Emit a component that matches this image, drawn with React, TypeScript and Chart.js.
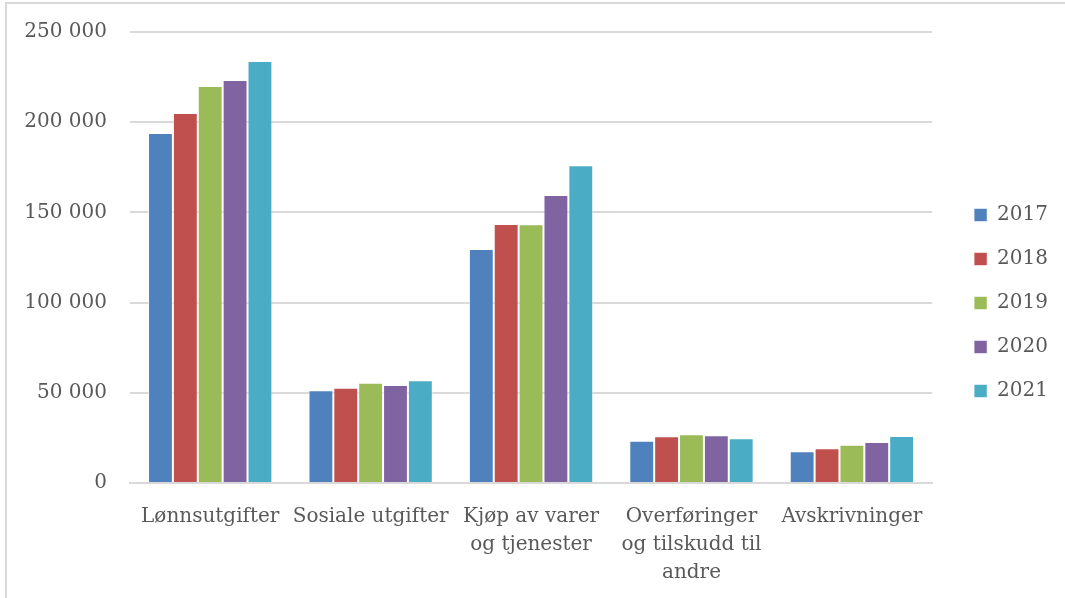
import React, { useEffect, useRef } from "react";
import { Chart, registerables } from "chart.js";

Chart.register(...registerables);

const categories: (string | string[])[] = [
  "Lønnsutgifter",
  "Sosiale utgifter",
  ["Kjøp av varer", "og tjenester"],
  ["Overføringer", "og tilskudd til", "andre"],
  "Avskrivninger",
];

const years = ["2017", "2018", "2019", "2020", "2021"];
const colors = ["#4F81BD", "#C0504D", "#9BBB59", "#8064A2", "#4BACC6"];

const v2017 = [194000, 51400, 129700, 23400, 17600];
const v2018 = [205100, 52800, 143600, 25900, 19200];
const v2019 = [220000, 55600, 143400, 27000, 21200];
const v2020 = [223400, 54300, 159600, 26400, 22700];
const v2021 = [233900, 56900, 176100, 24800, 26000];
const seriesValues = [v2017, v2018, v2019, v2020, v2021];

const yMax = 250000;
const yStep = 50000;

const fmt = (v: number) => String(v).replace(/\B(?=(\d{3})+(?!\d))/g, " ");

const FONT = "'DejaVu Serif', serif";
const TEXT = "#595959";
const GRID = "#d9d9d9";

// shifts the right-hand legend block up a little (layout tweak only)
const legendShift = {
  id: "legendShift",
  afterLayout(chart: any) {
    if (chart.legend) {
      chart.legend.bottom -= 16;
      chart.legend.height -= 16;
    }
  },
};

export default function App() {
  const ref = useRef<HTMLCanvasElement | null>(null);

  useEffect(() => {
    if (!ref.current) return;
    const chart = new Chart(ref.current, {
      type: "bar",
      data: {
        labels: categories,
        datasets: years.map((y, i) => ({
          label: y,
          data: seriesValues[i],
          backgroundColor: colors[i],
          borderColor: "rgba(255,255,255,0.55)",
          borderWidth: 1,
          categoryPercentage: 0.775,
          barPercentage: 1,
        })),
      },
      plugins: [legendShift],
      options: {
        responsive: false,
        animation: false,
        layout: { padding: { top: 28, bottom: 8, left: 0, right: 7 } },
        plugins: {
          legend: {
            position: "right",
            labels: {
              boxWidth: 13,
              boxHeight: 13,
              padding: 24,
              color: TEXT,
              font: { family: FONT, size: 20 },
            },
          },
          tooltip: { enabled: false },
        },
        scales: {
          x: {
            grid: { display: false, drawTicks: false },
            border: { display: true, color: GRID, width: 2 },
            ticks: {
              color: TEXT,
              font: { family: FONT, size: 20, lineHeight: 1.4 },
              padding: 20,
              maxRotation: 0,
              autoSkip: false,
            },
            afterFit: (s: any) => {
              s.height = 107;
            },
          },
          y: {
            min: 0,
            max: yMax,
            grid: {
              color: GRID,
              lineWidth: 2,
              drawTicks: true,
              tickLength: 15,
              tickColor: "rgba(0,0,0,0)",
            },
            border: { display: false },
            ticks: {
              stepSize: yStep,
              color: TEXT,
              font: { family: FONT, size: 20 },
              padding: 8,
              callback: (v: any) => fmt(Number(v)),
            },
            afterFit: (s: any) => {
              s.width = 123;
            },
          },
          y2: {
            type: "linear",
            position: "right",
            grid: { display: false, drawTicks: false },
            border: { display: false },
            ticks: { display: false },
            afterFit: (s: any) => {
              s.width = 18;
            },
          },
        },
      },
    });
    return () => chart.destroy();
  }, []);

  return (
    <div
      style={{
        position: "absolute",
        left: 5,
        top: 2,
        width: 1060,
        height: 596,
        boxSizing: "border-box",
        borderTop: `2px solid ${GRID}`,
        borderLeft: `2px solid ${GRID}`,
        background: "#fff",
        overflow: "hidden",
      }}
    >
      <canvas ref={ref} width={1058} height={594} style={{ display: "block" }} />
    </div>
  );
}
